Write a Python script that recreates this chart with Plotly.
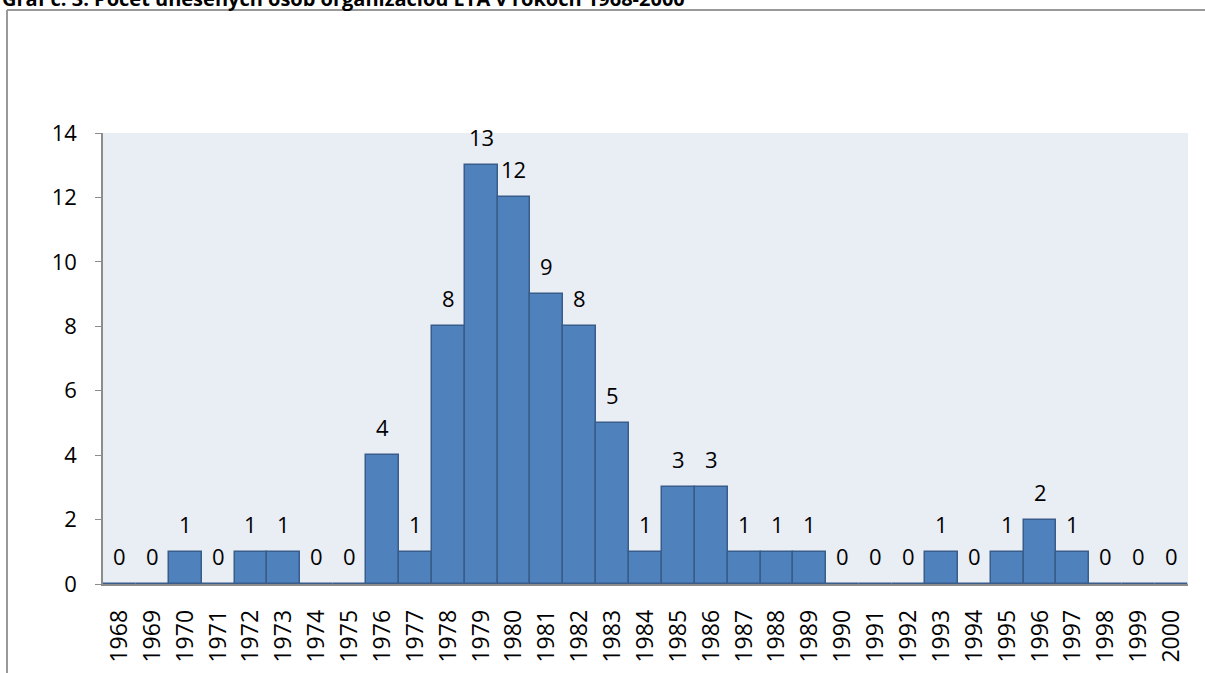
import plotly.graph_objects as go

years = [str(y) for y in range(1968, 2001)]
values = [0, 0, 1, 0, 1, 1, 0, 0, 4, 1, 8, 13, 12, 9, 8, 5, 1, 3, 3, 1, 1, 1,
          0, 0, 0, 1, 0, 1, 2, 1, 0, 0, 0]
y_ticks = [0, 2, 4, 6, 8, 10, 12, 14]
title_text = "Graf č. 3: Počet unesených osob organizáciou ETA v rokoch 1968-2000"

W, H = 1205, 673
L, R, T, B = 103, 17, 133, 89
pw, ph = W - L - R, H - T - B

def px_x(p):
    return (p - L) / pw

def px_y(p):
    return (H - B - p) / ph

font = "Open Sans"

fig = go.Figure(go.Bar(
    x=years, y=values,
    marker=dict(color="#4F81BD", line=dict(color="#385D8A", width=1.5)),
    hoverinfo="x+y",
))

label_annotations = [
    dict(x=i, y=v, xref="x", yref="y", text=str(v), showarrow=False,
         yanchor="bottom", yshift=11,
         font=dict(family=font, size=22, color="black"))
    for i, v in enumerate(values)
]

fig.update_layout(
    width=W, height=H,
    margin=dict(l=L, r=R, t=T, b=B, autoexpand=False),
    paper_bgcolor="white", plot_bgcolor="#E9EDF4",
    bargap=0, showlegend=False,
    font=dict(family=font, size=22, color="black"),
    xaxis=dict(type="category", tickangle=-90, showgrid=False, ticks="",
               range=[-0.5, len(years) - 0.5],
               showline=True, linecolor="#8C8C8C", linewidth=1.5,
               ticklabelstandoff=15,
               tickfont=dict(family=font, size=23)),
    yaxis=dict(range=[0, 14], tickvals=y_ticks, showgrid=False, zeroline=False,
               ticks="outside", ticklen=6, tickcolor="#8C8C8C",
               showline=True, linecolor="#8C8C8C", linewidth=1.5,
               ticklabelstandoff=14,
               tickfont=dict(family=font, size=22)),
    shapes=[
        dict(type="line", xref="paper", yref="paper",
             x0=px_x(7), x1=px_x(7), y0=px_y(10), y1=px_y(700),
             line=dict(color="#999999", width=2)),
        dict(type="line", xref="paper", yref="paper",
             x0=px_x(7), x1=px_x(1220), y0=px_y(10), y1=px_y(10),
             line=dict(color="#999999", width=2)),
    ],
    annotations=label_annotations + [
        dict(text="<b>" + title_text + "</b>", xref="paper", yref="paper",
             x=px_x(0), y=px_y(14), xanchor="left", yanchor="bottom",
             showarrow=False, font=dict(family=font, size=20, color="black")),
    ],
)

fig.write_html("out.html", config={"displayModeBar": False},
               post_script="document.body.style.margin='0';"
                           "document.body.style.overflow='hidden';")
